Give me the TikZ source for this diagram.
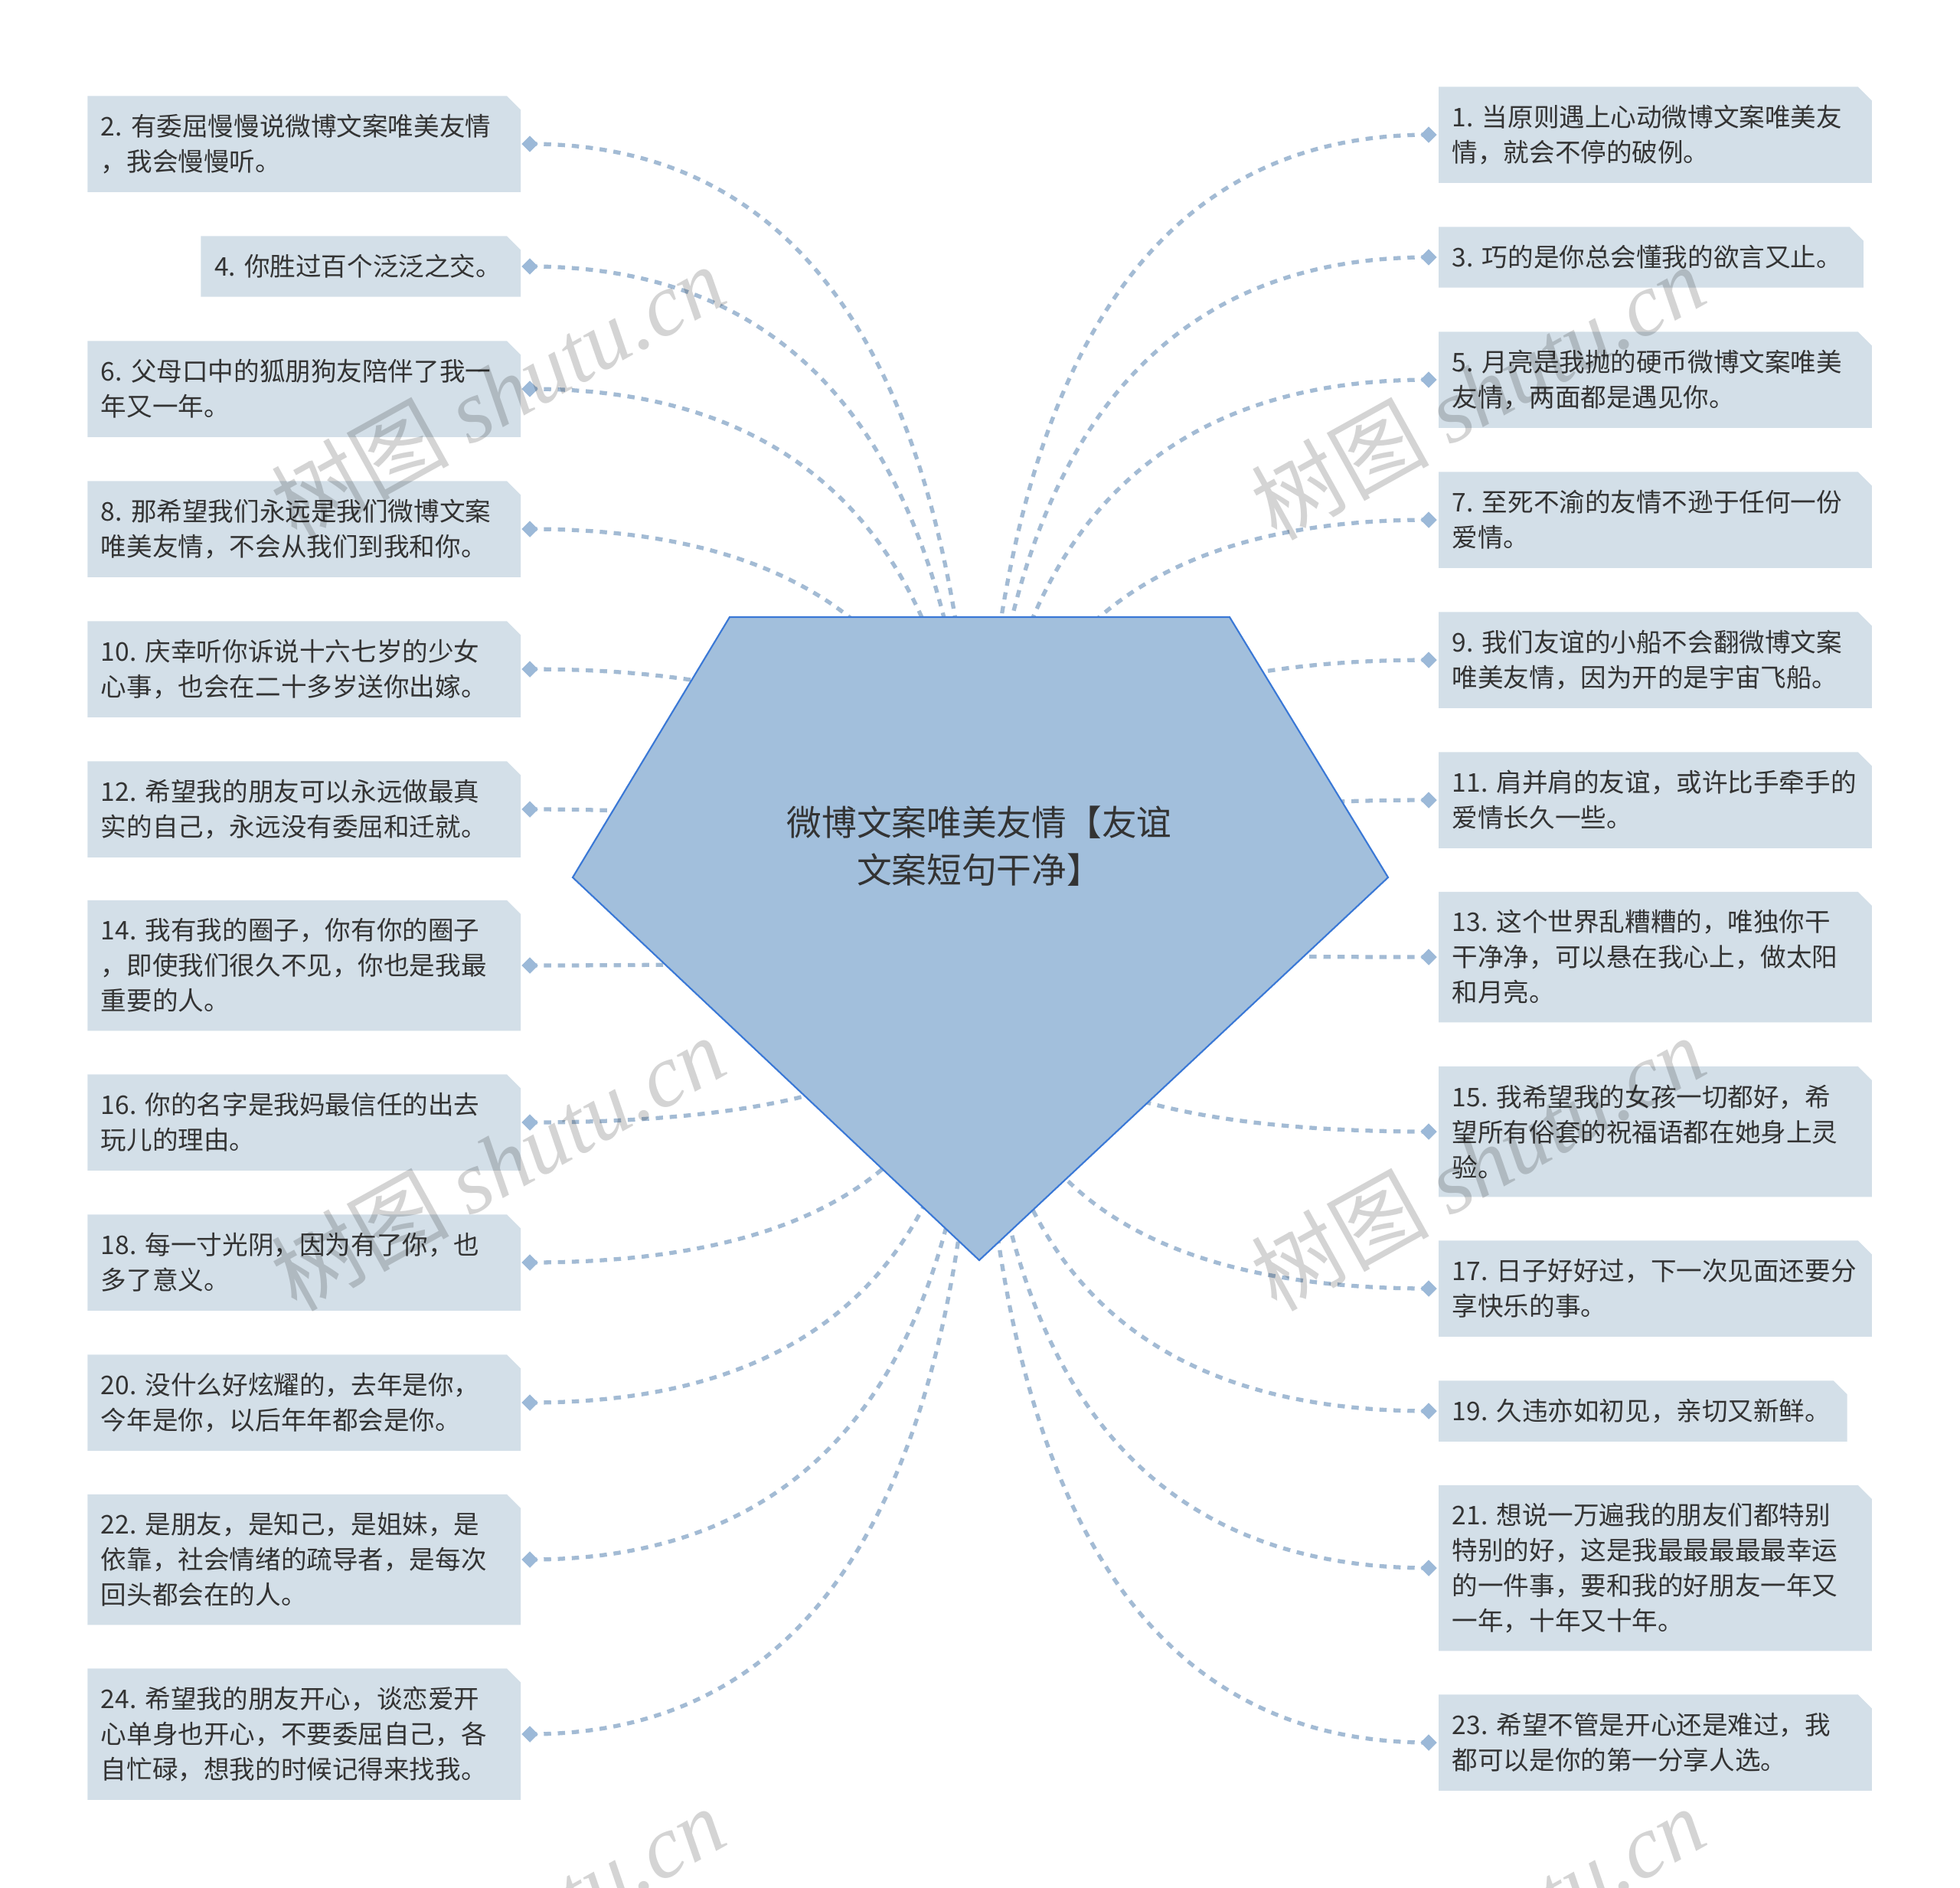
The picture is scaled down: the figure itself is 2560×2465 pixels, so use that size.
\documentclass[tikz,border=0pt]{standalone}
\usepackage{fontspec}
\setmainfont{Noto Sans CJK SC}
\newfontfamily\wmserif{Liberation Serif}
\usetikzlibrary{shapes.geometric,calc,backgrounds}
\definecolor{boxfill}{HTML}{D3DFE8}
\definecolor{rootfill}{HTML}{A2BFDC}
\definecolor{rootline}{HTML}{3A78D6}
\definecolor{linkblue}{HTML}{A3BBD4}
\definecolor{dotblue}{HTML}{9CB9D8}
\definecolor{inkgray}{HTML}{333333}
\tikzset{
  leaf/.style={inner xsep=0.17cm, inner ysep=0pt, align=left, text=inkgray, font=\fontsize{9.55}{13.1}\selectfont},
  lleaf/.style={leaf, anchor=east},
  rleaf/.style={leaf, anchor=west},
  dot/.style={diamond, fill=dotblue, minimum size=0.22cm, inner sep=0pt},
  link/.style={linkblue, line width=1.5pt, dash pattern=on 2.7pt off 2.5pt},
  wmark/.style={rotate=29, text=black, opacity=0.17, font=\fontsize{33}{33}\selectfont},
}
\begin{document}
\begin{tikzpicture}[x=0.01cm, y=-0.01cm, line join=round]
	\useasboundingbox (0,0) rectangle (2560,2465);
	% 1. 中心主题
	\coordinate (root) at (1278,1226);
	\node[font=\fontsize{13}{17.4}\selectfont, align=center, text=inkgray] (title) at (1279,1105) {微博文案唯美友情【友谊\\文案短句干净】};
	
	% 2. 左侧分支（偶数）
	\foreach \i/\y/\h/\w/\txt in {
		2/188/1.24/5.3/{2.~有委屈慢慢说微博文案唯美友情\\，我会慢慢听。},
		4/348/0.78/3.82/{4.~你胜过百个泛泛之交。},
		6/508/1.24/5.3/{6.~父母口中的狐朋狗友陪伴了我一\\年又一年。},
		8/691/1.24/5.3/{8.~那希望我们永远是我们微博文案\\唯美友情，不会从我们到我和你。},
		10/874/1.24/5.3/{10.~庆幸听你诉说十六七岁的少女\\心事，也会在二十多岁送你出嫁。},
		12/1057/1.24/5.3/{12.~希望我的朋友可以永远做最真\\实的自己，永远没有委屈和迁就。},
		14/1261/1.69/5.3/{14.~我有我的圈子，你有你的圈子\\，即使我们很久不见，你也是我最\\重要的人。},
		16/1466/1.24/5.3/{16.~你的名字是我妈最信任的出去\\玩儿的理由。},
		18/1649/1.24/5.3/{18.~每一寸光阴，因为有了你，也\\多了意义。},
		20/1832/1.24/5.3/{20.~没什么好炫耀的，去年是你，\\今年是你，以后年年都会是你。},
		22/2037/1.69/5.3/{22.~是朋友，是知己，是姐妹，是\\依靠，社会情绪的疏导者，是每次\\回头都会在的人。},
		24/2265/1.70/5.3/{24.~希望我的朋友开心，谈恋爱开\\心单身也开心，不要委屈自己，各\\自忙碌，想我的时候记得来找我。}} {
		\node[lleaf, text width=\w cm, minimum height=\h cm] (l\i) at (680,\y) {\txt};
		\node[dot] (d\i) at ([xshift=0.12cm]l\i.east) {};
	}
	
	% 3. 右侧分支（奇数）
	\foreach \i/\y/\h/\w/\txt in {
		1/176/1.24/5.3/{1.~当原则遇上心动微博文案唯美友\\情，就会不停的破例。},
		3/336/0.78/5.19/{3.~巧的是你总会懂我的欲言又止。},
		5/496/1.24/5.3/{5.~月亮是我抛的硬币微博文案唯美\\友情，两面都是遇见你。},
		7/679/1.24/5.3/{7.~至死不渝的友情不逊于任何一份\\爱情。},
		9/862/1.24/5.3/{9.~我们友谊的小船不会翻微博文案\\唯美友情，因为开的是宇宙飞船。},
		11/1045/1.24/5.3/{11.~肩并肩的友谊，或许比手牵手的\\爱情长久一些。},
		13/1250/1.69/5.3/{13.~这个世界乱糟糟的，唯独你干\\干净净，可以悬在我心上，做太阳\\和月亮。},
		15/1478/1.69/5.3/{15.~我希望我的女孩一切都好，希\\望所有俗套的祝福语都在她身上灵\\验。},
		17/1683/1.24/5.3/{17.~日子好好过，下一次见面还要分\\享快乐的事。},
		19/1843/0.78/4.98/{19.~久违亦如初见，亲切又新鲜。},
		21/2048/2.15/5.3/{21.~想说一万遍我的朋友们都特别\\特别的好，这是我最最最最最幸运\\的一件事，要和我的好朋友一年又\\一年，十年又十年。},
		23/2276/1.24/5.3/{23.~希望不管是开心还是难过，我\\都可以是你的第一分享人选。}} {
		\node[rleaf, text width=\w cm, minimum height=\h cm] (l\i) at (1879,\y) {\txt};
		\node[dot] (d\i) at ([xshift=-0.13cm]l\i.west) {};
	}
	
	% 4. 底层：框、连线、五边形
	\begin{scope}[on background layer]
		\fill[white] (0,0) rectangle (2560,2465);
		\foreach \i in {1,...,24}
		\fill[boxfill] (l\i.south west) -- (l\i.north west) -- ([xshift=-0.18cm]l\i.north east) -- ([yshift=-0.18cm]l\i.north east) -- (l\i.south east) -- cycle;
		\foreach \i in {1,...,24}
		\draw[link] (d\i.center) .. controls ($(d\i.center)!2/3!(d\i -| root)$) and ($(root)!2/3!(d\i -| root)$) .. (root);
		\draw[fill=rootfill, draw=rootline, line width=0.6pt] (953,806) -- (1606,806) -- (1813,1146) -- (1279,1646) -- (748,1146) -- cycle;
	\end{scope}
	
	% 5. 水印
	\foreach \wx/\wy in {650/512, 1930/512, 650/1519, 1930/1519, 650/2526, 1930/2526}
	\node[wmark] (wm-\wx-\wy) at (\wx,\wy) {树图 {\wmserif\itshape shutu.cn}};
\end{tikzpicture}
\end{document}
